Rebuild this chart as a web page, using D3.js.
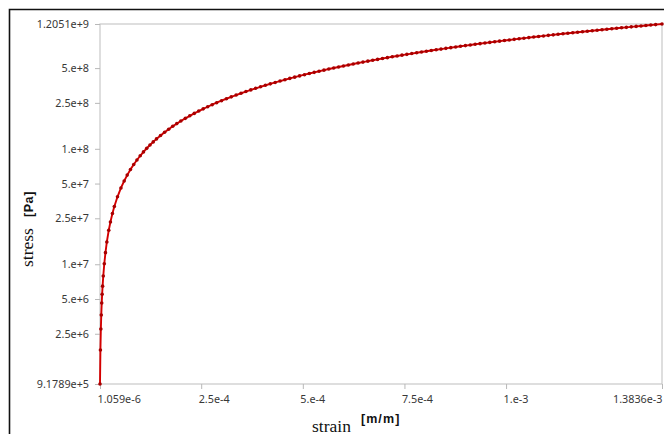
<!DOCTYPE html>
<html>
<head>
<meta charset="utf-8">
<script src="https://cdn.jsdelivr.net/npm/d3@7"></script>
<style>
  html, body { margin: 0; padding: 0; background: #fff; }
  svg { display: block; }
</style>
</head>
<body>
<svg id="chart" width="664" height="434"></svg>
<script>
// Strain samples [m/m]
const strain = [
  1.059e-6, 2.08e-6, 3.16e-6, 4.19e-6, 5.31e-6, 6.31e-6, 7.43e-6, 9.1e-6, 11.6e-6, 14.5e-6,
  17.9e-6, 22.6e-6, 26.7e-6, 31.6e-6, 36.3e-6, 44.1e-6, 52.6e-6, 60.5e-6,
  68e-6, 76e-6, 84e-6, 92e-6, 100e-6, 108e-6, 116e-6, 124e-6, 132e-6, 140e-6,
  150e-6, 160e-6, 170e-6, 180e-6, 190e-6, 200e-6, 211e-6, 222e-6, 233e-6, 244e-6,
  255e-6, 266e-6, 277e-6, 288e-6,
  300e-6, 312e-6, 324e-6, 336e-6, 348e-6, 360e-6, 372e-6, 384e-6, 396e-6, 408e-6,
  420e-6, 432e-6, 444e-6, 456e-6, 468e-6, 480e-6, 492e-6, 504e-6, 516e-6, 528e-6,
  540e-6, 552e-6, 564e-6, 576e-6, 588e-6, 600e-6, 612e-6, 624e-6, 636e-6, 648e-6,
  660e-6, 672e-6, 684e-6, 696e-6, 708e-6, 720e-6, 732e-6, 744e-6, 756e-6, 768e-6,
  780e-6, 792e-6, 804e-6, 816e-6, 828e-6, 840e-6, 852e-6, 864e-6, 876e-6, 888e-6,
  900e-6, 912e-6, 924e-6, 936e-6, 948e-6, 960e-6, 972e-6, 984e-6, 996e-6, 1008e-6,
  1020e-6, 1032e-6, 1044e-6, 1056e-6, 1068e-6, 1080e-6, 1092e-6, 1104e-6, 1116e-6, 1128e-6,
  1140e-6, 1152e-6, 1164e-6, 1176e-6, 1188e-6, 1200e-6, 1212e-6, 1224e-6, 1236e-6, 1248e-6,
  1260e-6, 1272e-6, 1284e-6, 1296e-6, 1308e-6, 1320e-6, 1332e-6, 1344e-6, 1356e-6, 1368e-6,
  1383.6e-6
];

// Stress samples [Pa]
const stress = [
  9.1789e5, 1.81e6, 2.75e6, 3.64e6, 4.62e6, 5.49e6, 6.46e6, 7.92e6, 1.01e7, 1.26e7,
  1.56e7, 1.97e7, 2.32e7, 2.75e7, 3.16e7, 3.84e7, 4.58e7, 5.26e7,
  5.92e7, 6.61e7, 7.31e7, 8.00e7, 8.70e7, 9.40e7, 1.009e8, 1.079e8, 1.148e8, 1.218e8,
  1.305e8, 1.392e8, 1.479e8, 1.566e8, 1.653e8, 1.740e8, 1.836e8, 1.931e8, 2.027e8, 2.123e8,
  2.219e8, 2.314e8, 2.410e8, 2.506e8,
  261.0e6, 271.4e6, 281.9e6, 292.3e6, 302.8e6, 313.2e6, 323.6e6, 334.1e6, 344.5e6, 355.0e6,
  365.4e6, 375.8e6, 386.3e6, 396.7e6, 407.2e6, 417.6e6, 428.0e6, 438.5e6, 448.9e6, 459.4e6,
  469.8e6, 480.2e6, 490.7e6, 501.1e6, 511.6e6, 522.0e6, 532.4e6, 542.9e6, 553.3e6, 563.8e6,
  574.2e6, 584.6e6, 595.1e6, 605.5e6, 616.0e6, 626.4e6, 636.8e6, 647.3e6, 657.7e6, 668.2e6,
  678.6e6, 689.0e6, 699.5e6, 709.9e6, 720.4e6, 730.8e6, 741.2e6, 751.7e6, 762.1e6, 772.6e6,
  783.0e6, 793.4e6, 803.9e6, 814.3e6, 824.8e6, 835.2e6, 845.6e6, 856.1e6, 866.5e6, 877.0e6,
  887.4e6, 897.8e6, 908.3e6, 918.7e6, 929.2e6, 939.6e6, 950.0e6, 960.5e6, 970.9e6, 981.4e6,
  991.8e6, 1002.2e6, 1012.7e6, 1023.1e6, 1033.6e6, 1044.0e6, 1054.4e6, 1064.9e6, 1075.3e6, 1085.8e6,
  1096.2e6, 1106.6e6, 1117.1e6, 1127.5e6, 1138.0e6, 1148.4e6, 1158.8e6, 1169.3e6, 1179.7e6, 1190.2e6,
  1205.1e6
];

// Axis ticks and their labels
const xTicks = [1.059e-6, 2.5e-4, 5e-4, 7.5e-4, 1e-3, 1.3836e-3];
const xTickLabels = ["1.059e-6", "2.5e-4", "5.e-4", "7.5e-4", "1.e-3", "1.3836e-3"];
const yTicks = [9.1789e5, 2.5e6, 5e6, 1e7, 2.5e7, 5e7, 1e8, 2.5e8, 5e8, 1.2051e9];
const yTickLabels = ["9.1789e+5", "2.5e+6", "5.e+6", "1.e+7", "2.5e+7", "5.e+7", "1.e+8", "2.5e+8", "5.e+8", "1.2051e+9"];

const svg = d3.select("#chart");
const plot = { left: 100, top: 24, right: 662, bottom: 384 };

const x = d3.scaleLinear().domain([1.059e-6, 1.3836e-3]).range([plot.left, plot.right]);
const y = d3.scaleLog().domain([9.1789e5, 1.2051e9]).range([plot.bottom, plot.top]);

const tickFont = "'Noto Sans', 'Liberation Sans', sans-serif";

// outer frame (runs past the window on the right and bottom)
svg.append("path")
  .attr("d", "M9.5,440V9.5H670")
  .attr("fill", "none")
  .attr("stroke", "#111")
  .attr("stroke-width", 1.6);

// plot box
svg.append("rect")
  .attr("x", plot.left).attr("y", plot.top)
  .attr("width", plot.right - plot.left).attr("height", plot.bottom - plot.top)
  .attr("fill", "none").attr("stroke", "#c8c8c8").attr("stroke-width", 1.2);

// y axis
const yAxis = d3.axisLeft(y)
  .tickValues(yTicks)
  .tickFormat((d, i) => yTickLabels[i])
  .tickSize(5)
  .tickPadding(6);
const gy = svg.append("g").attr("transform", `translate(${plot.left},0)`).call(yAxis);
gy.select(".domain").remove();
gy.selectAll(".tick line").attr("stroke", "#b8b8b8");
gy.selectAll(".tick text")
  .attr("fill", "#383838")
  .style("font-family", tickFont)
  .style("font-size", "10.8px");

// x axis
const xAxis = d3.axisBottom(x)
  .tickValues(xTicks)
  .tickFormat((d, i) => xTickLabels[i])
  .tickSize(5)
  .tickPadding(6);
const gx = svg.append("g").attr("transform", `translate(0,${plot.bottom})`).call(xAxis);
gx.select(".domain").remove();
gx.selectAll(".tick line").attr("stroke", "#b8b8b8");
gx.selectAll(".tick text")
  .attr("fill", "#383838")
  .attr("text-anchor", (d, i) => i === xTicks.length - 1 ? "end" : "start")
  .attr("dx", (d, i) => i === xTicks.length - 1 ? "0" : "-3")
  .style("font-family", tickFont)
  .style("font-size", "10.8px");

// axis titles
const xTitle = svg.append("text").attr("x", 312).attr("y", 431.5).attr("fill", "#111");
xTitle.append("tspan")
  .style("font-family", "'Liberation Serif', 'DejaVu Serif', serif")
  .style("font-size", "17.5px")
  .text("strain");
xTitle.append("tspan")
  .attr("dx", 10).attr("dy", -9)
  .style("font-family", "'Liberation Sans', sans-serif")
  .style("font-weight", "bold")
  .style("font-size", "12.5px")
  .style("letter-spacing", "1.1px")
  .text("[m/m]");

const yTitle = svg.append("text")
  .attr("transform", "translate(33,267) rotate(-90)")
  .attr("fill", "#111");
yTitle.append("tspan")
  .style("font-family", "'Liberation Serif', 'DejaVu Serif', serif")
  .style("font-size", "17.5px")
  .text("stress");
yTitle.append("tspan")
  .attr("dx", 11)
  .style("font-family", "'Liberation Sans', sans-serif")
  .style("font-weight", "bold")
  .style("font-size", "12.5px")
  .style("letter-spacing", "0.6px")
  .text("[Pa]");

// stress-strain curve
const pts = strain.map((s, i) => [s, stress[i]]);
svg.append("path")
  .datum(pts)
  .attr("fill", "none")
  .attr("stroke", "#d40000")
  .attr("stroke-width", 1.9)
  .attr("d", d3.line().x(d => x(d[0])).y(d => y(d[1])));

svg.append("g").selectAll("circle")
  .data(pts)
  .join("circle")
  .attr("cx", d => x(d[0]))
  .attr("cy", d => y(d[1]))
  .attr("r", 1.8)
  .attr("fill", "#a80000");
</script>
</body>
</html>
